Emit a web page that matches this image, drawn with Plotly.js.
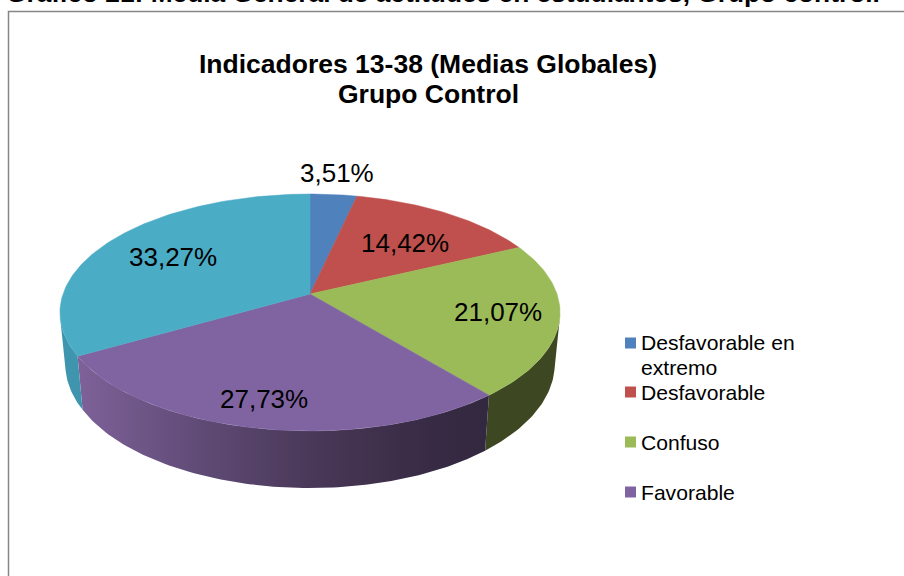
<!DOCTYPE html>
<html>
<head>
<meta charset="utf-8">
<script src="https://cdn.plot.ly/plotly-3.0.1.min.js"></script>
<style>html,body{margin:0;padding:0;background:#fff;overflow:hidden}</style>
</head>
<body>
<div id="chart" style="width:904px;height:576px"></div>
<script>
// ---- data ----
const categories = ['Desfavorable en extremo', 'Desfavorable', 'Confuso', 'Favorable', 'Favorable en extremo'];
const values = [3.51, 14.42, 21.07, 27.73, 33.27];
const legendLines = ['Desfavorable en', 'extremo', 'Desfavorable', 'Confuso', 'Favorable'];
const pageHeading = 'Gráfico 21: Media General de actitudes en estudiantes, Grupo control.';
const titleLines = ['Indicadores 13-38 (Medias Globales)', 'Grupo Control'];

// ---- styles ----
const topColors = ['#4F81BD', '#C0504D', '#9BBB59', '#8064A2', '#4BACC6'];
const wallScales = [
  [[0, '#3b5f8c'], [1, '#3b5f8c']],
  [[0, '#8f3b39'], [1, '#8f3b39']],
  [[0, '#414d24'], [1, '#3d4822']],
  [[0, '#7d6198'], [0.3, '#5f4a75'], [0.6, '#473655'], [0.85, '#382b45'], [1, '#32283f']],
  [[0, '#3f95ad'], [1, '#3d8ea6']]
];
const FONT = 'Liberation Sans, Arial, sans-serif';

// ---- perspective tilt of the disc (pixel-valued axes below) ----
const CX = 310, TILT = 0.156;
const TOP = {sx: 247, ya: -69.7, yb: 294};
const BOTTOM = {sx: 241.7, ya: -67.1, yb: 344.8};
function project(disc, share) {
  const a = share / 100 * 2 * Math.PI, u = Math.sin(a), v = Math.cos(a), d = 1 + TILT * v;
  return [CX + disc.sx * u / d, (disc.ya * v + disc.yb) / d];
}
function arc(disc, from, to) {
  const pts = [], n = Math.max(2, Math.ceil((to - from) * 3.6));
  for (let i = 0; i <= n; i++) pts.push(project(disc, from + (to - from) * i / n));
  return pts;
}
// A strip of the rim faces the viewer when its quad winds the same way as the strip at the very front.
function quadArea(s0, s1) {
  const q = [project(TOP, s0), project(TOP, s1), project(BOTTOM, s1), project(BOTTOM, s0)];
  let area = 0;
  q.forEach((p, i) => { const n = q[(i + 1) % 4]; area += p[0] * n[1] - n[0] * p[1]; });
  return area;
}
const frontSign = Math.sign(quadArea(49.9, 50.1));
function visibleRange(from, to) {
  let lo = null, hi = null;
  const step = 0.02;
  for (let s = from; s < to - 1e-9; s += step) {
    const e = Math.min(s + step, to);
    if (Math.sign(quadArea(s, e)) === frontSign) { if (lo === null) lo = s; hi = e; }
  }
  return lo === null ? null : [lo, hi];
}

const walls = [], tops = [];
let start = 0;
values.forEach((val, i) => {
  const end = start + val;
  const shown = visibleRange(start, end);
  if (shown) {
    const upper = arc(TOP, shown[0], shown[1]), lower = arc(BOTTOM, shown[0], shown[1]).reverse();
    const ring = upper.concat(lower); ring.push(upper[0]);
    walls.push({
      type: 'scatter', mode: 'lines', x: ring.map(p => p[0]), y: ring.map(p => p[1]),
      fill: 'toself', line: {width: 0}, hoverinfo: 'skip', showlegend: false,
      fillgradient: {type: 'horizontal', start: 80, stop: 490, colorscale: wallScales[i]}
    });
  }
  const sector = [[CX, TOP.yb]].concat(arc(TOP, start, end)); sector.push([CX, TOP.yb]);
  tops.push({
    type: 'scatter', mode: 'lines', name: categories[i], x: sector.map(p => p[0]), y: sector.map(p => p[1]),
    fill: 'toself', fillcolor: topColors[i], line: {width: 0.5, color: topColors[i]},
    hoveron: 'fills', text: val.toFixed(2).replace('.', ',') + '%', hoverinfo: 'name+text', showlegend: false
  });
  start = end;
});

const labelAnchors = [[337, 173], [405, 243], [498, 312], [264, 399], [173, 257]];
const annotations = values.map((v, i) => ({
  x: labelAnchors[i][0], y: labelAnchors[i][1], xref: 'x', yref: 'y', showarrow: false,
  text: v.toFixed(2).replace('.', ',') + '%', font: {family: FONT, size: 26, color: '#000'}
}));

const legendTextRows = [342, 367, 392, 442, 492];
legendLines.forEach((t, i) => annotations.push({
  x: 639, y: legendTextRows[i], xref: 'x', yref: 'y', xanchor: 'left', yanchor: 'middle', align: 'left',
  showarrow: false, text: t, font: {family: FONT, size: 21.1, color: '#000'}
}));
annotations.push({
  x: 443, y: 10.5, xref: 'x', yref: 'y', xanchor: 'center', yanchor: 'bottom', showarrow: false,
  text: '<b>' + pageHeading + '</b>', font: {family: FONT, size: 26.3, color: '#000'}
});
const titleRows = [64, 94];
titleLines.forEach((t, i) => annotations.push({
  x: 428, y: titleRows[i], xref: 'x', yref: 'y', xanchor: 'center', yanchor: 'middle', align: 'center', showarrow: false,
  text: '<b>' + t + '</b>', font: {family: FONT, size: 26.5, color: '#000'}
}));

const shapes = [{
  type: 'path', xref: 'x', yref: 'y', path: 'M 8.5 577 L 8.5 11.5 L 905 11.5',
  line: {color: '#868686', width: 1.5}
}];
const keyRows = [343, 392, 442, 492];
keyRows.forEach((row, i) => shapes.push({
  type: 'rect', xref: 'x', yref: 'y', x0: 625, x1: 636, y0: row - 5.5, y1: row + 5.5,
  fillcolor: topColors[i], line: {width: 0}
}));

Plotly.newPlot('chart', walls.concat(tops), {
  width: 904, height: 576,
  margin: {l: 0, r: 0, t: 0, b: 0},
  paper_bgcolor: '#fff', plot_bgcolor: '#fff', showlegend: false,
  xaxis: {range: [0, 904], visible: false, fixedrange: true},
  yaxis: {range: [576, 0], visible: false, fixedrange: true},
  annotations, shapes
}, {displayModeBar: false});
</script>
</body>
</html>
